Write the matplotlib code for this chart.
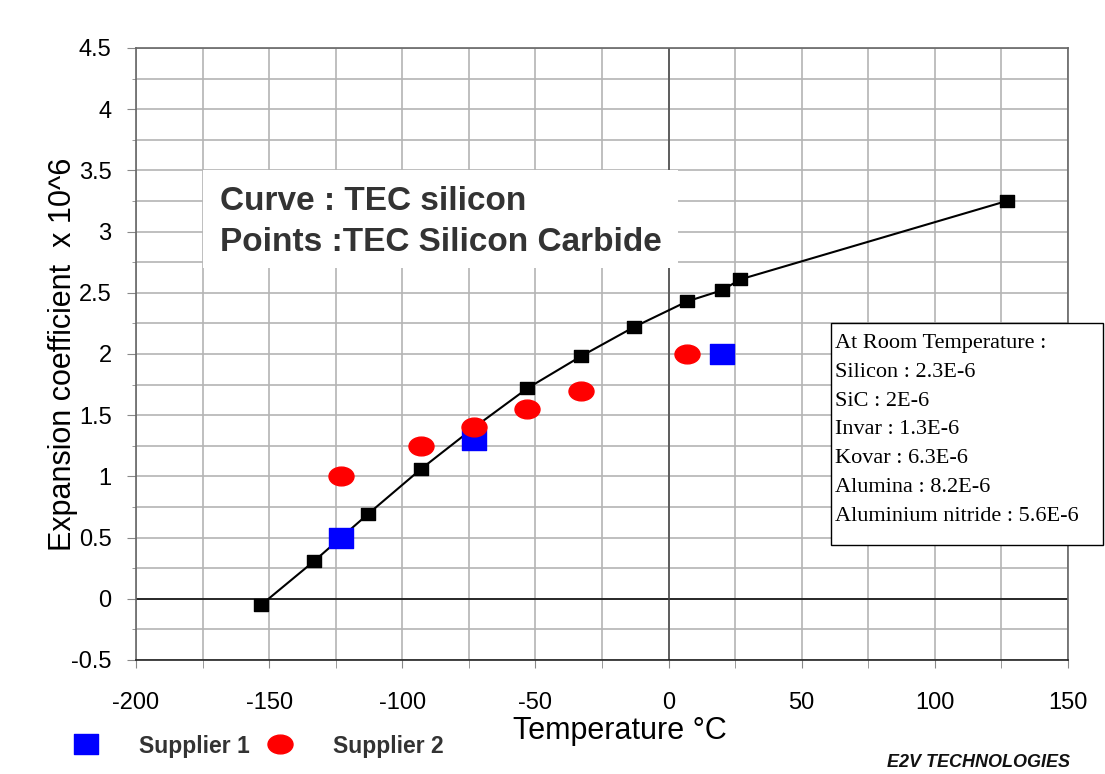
import numpy as np
import matplotlib
matplotlib.use('Agg')
import matplotlib.pyplot as plt
from matplotlib.path import Path
from matplotlib.patches import Rectangle
from matplotlib.lines import Line2D

plt.rcParams['axes.unicode_minus'] = False

# TEC silicon curve
temp_si = [-153, -133, -113, -93, -73, -53, -33, -13, 7, 20, 27, 127]
tec_si = [-0.05, 0.31, 0.69, 1.06, 1.40, 1.72, 1.98, 2.22, 2.43, 2.52, 2.61, 3.25]

# SiC points
temp_s1 = [-123, -73, 20]
tec_s1 = [0.5, 1.3, 2.0]
temp_s2 = [-123, -93, -73, -53, -33, 7]
tec_s2 = [1.0, 1.25, 1.4, 1.55, 1.7, 2.0]

room_lines = ['At Room Temperature :', 'Silicon : 2.3E-6', 'SiC : 2E-6', 'Invar : 1.3E-6',
              'Kovar : 6.3E-6', 'Alumina : 8.2E-6', 'Aluminium nitride : 5.6E-6']

sans = 'Liberation Sans'

# slightly flattened markers like in the original
def flat(path, sy):
    v = path.vertices.copy()
    v[:, 1] *= sy
    return Path(v, path.codes)

sq = flat(Path([(-1, -1), (1, -1), (1, 1), (-1, 1), (-1, -1)],
               [1, 2, 2, 2, 79]), 0.82)
oval = flat(Path.unit_circle(), 0.75)

W, H = 1105, 774
fig = plt.figure(figsize=(W / 100, H / 100), dpi=100)
ax = fig.add_axes([136 / W, 1 - 660 / H, 932 / W, 612 / H])

ax.plot(temp_si, tec_si, color='black', lw=1.5, marker=sq, ms=10, zorder=4)
ax.plot(temp_s1, tec_s1, ls='none', marker=sq, ms=17, color='#0000ff', zorder=5)
ax.plot(temp_s2, tec_s2, ls='none', marker=oval, ms=18, color='#ff0000', zorder=6)

ax.set_xlim(-200, 150)
ax.set_ylim(-0.5, 4.5)
ax.set_xticks(np.arange(-200, 151, 50))
ax.set_xticks(np.arange(-200, 151, 25), minor=True)
ax.set_yticks(np.arange(-0.5, 4.51, 0.5))
ax.set_yticks(np.arange(-0.5, 4.51, 0.25), minor=True)
ax.set_yticklabels(['-0.5', '0', '0.5', '1', '1.5', '2', '2.5', '3', '3.5', '4', '4.5'])

ax.grid(True, which='both', color='#b4b4b4', lw=1.2, zorder=0)
ax.set_axisbelow(True)
ax.axhline(0, color='black', lw=1.1, zorder=1)
ax.axvline(0, color='#444444', lw=1.1, zorder=1)
for s in ax.spines.values():
    s.set_color('#666666')
    s.set_linewidth(1.2)
ax.spines['bottom'].set_color('#222222')

ax.tick_params(axis='both', which='both', direction='out', colors='#888888',
               labelcolor='black', labelsize=17)
ax.tick_params(axis='y', which='major', length=6.5, pad=11)
ax.tick_params(axis='y', which='minor', length=3)
ax.tick_params(axis='x', which='both', length=6, pad=17)
for lab in ax.get_xticklabels() + ax.get_yticklabels():
    lab.set_family(sans)

ax.set_xlabel('Temperature °C', fontsize=22, family=sans)
ax.xaxis.set_label_coords(0.519, -0.092)
ax.set_ylabel('Expansion coefficient  x 10^6', fontsize=22, family=sans)
ax.yaxis.set_label_coords(-0.062, 0.5)

# annotation box inside the plot
ax.add_patch(Rectangle((203 / W, 1 - 268 / H), 475 / W, 98 / H, transform=fig.transFigure,
                       facecolor='white', edgecolor='none', zorder=2))
ax.text(220 / W, 1 - 210 / H, 'Curve : TEC silicon', transform=fig.transFigure,
        fontsize=24, fontweight='bold', color='#333333', family=sans, zorder=3)
ax.text(220 / W, 1 - 251 / H, 'Points :TEC Silicon Carbide', transform=fig.transFigure,
        fontsize=24, fontweight='bold', color='#333333', family=sans, zorder=3)

# room temperature box
fig.add_artist(Rectangle((831 / W, 1 - 545 / H), 272 / W, 222 / H, transform=fig.transFigure,
                         facecolor='white', edgecolor='black', lw=1.0, zorder=5))
for i, line in enumerate(room_lines):
    fig.text(835 / W, 1 - (348 + i * 28.8) / H, line, fontsize=16, family='Liberation Serif',
             color='black', va='baseline', zorder=6)

# legend at the bottom
handles = [Line2D([], [], ls='none', marker=sq, ms=17, color='#0000ff'),
           Line2D([], [], ls='none', marker=oval, ms=18, color='#ff0000')]
leg = fig.legend(handles, ['Supplier 1', 'Supplier 2'], loc='center left',
                 bbox_to_anchor=(63 / W, 1 - 746 / H), ncol=2, frameon=False,
                 borderpad=0, borderaxespad=0, handlelength=2, handletextpad=1.3,
                 columnspacing=0.35, prop={'family': sans, 'weight': 'bold', 'size': 16.5})
for t in leg.get_texts():
    t.set_color('#333333')

fig.text(1070 / W, 1 - 767 / H, 'E2V TECHNOLOGIES', ha='right', va='baseline', fontsize=13,
         fontweight='bold', fontstyle='italic', family=sans, color='#111111')

fig.savefig('out.png', dpi=100)
